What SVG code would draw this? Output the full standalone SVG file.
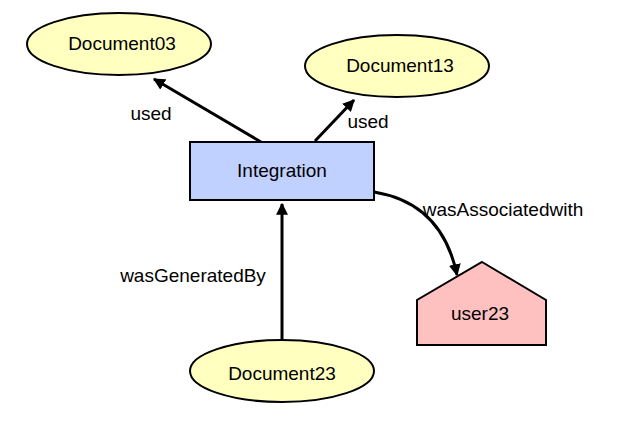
<svg xmlns="http://www.w3.org/2000/svg" width="621" height="421" viewBox="0 0 621 421">
<style>
text{font-family:"Liberation Sans",Arial,sans-serif;font-size:19px;fill:#000;text-anchor:middle}
.ent{fill:#ffffc0;stroke:#000;stroke-width:2}
.act{fill:#c0d0ff;stroke:#000;stroke-width:2}
.agt{fill:#ffc0c0;stroke:#000;stroke-width:2}
.edge{fill:none;stroke:#000;stroke-width:3;marker-end:url(#arr)}
</style>
<defs>
<marker id="arr" viewBox="0 0 10 10" refX="9" refY="5" markerWidth="4" markerHeight="4" orient="auto" markerUnits="strokeWidth">
<path d="M0,0 L10,5 L0,10 z" fill="#000"/>
</marker>
</defs>
<rect width="621" height="421" fill="#fff"/>
<g id="connectors">
<path class="edge" d="M261,142 L154,79"/>
<path class="edge" d="M315,141 L354,100"/>
<path class="edge" d="M282,340 L282,204"/>
<path class="edge" d="M374,192 Q442,203 457,275"/>
<text x="151" y="120">used</text>
<text x="368" y="128">used</text>
<text x="503" y="216">wasAssociatedwith</text>
<text x="193" y="282">wasGeneratedBy</text>
</g>
<g id="Document03">
<ellipse class="ent" cx="119" cy="44" rx="92" ry="31"/>
<text x="122" y="50">Document03</text>
</g>
<g id="Document13">
<ellipse class="ent" cx="397" cy="66" rx="92" ry="31"/>
<text x="400" y="72">Document13</text>
</g>
<g id="Integration">
<rect class="act" x="190" y="142" width="184" height="58"/>
<text x="282" y="177">Integration</text>
</g>
<g id="Document23">
<ellipse class="ent" cx="282" cy="371" rx="92" ry="31"/>
<text x="282" y="380">Document23</text>
</g>
<g id="user23">
<polygon class="agt" points="482,262 546,300 546,345 417,345 417,300"/>
<text x="480" y="320">user23</text>
</g>
</svg>
